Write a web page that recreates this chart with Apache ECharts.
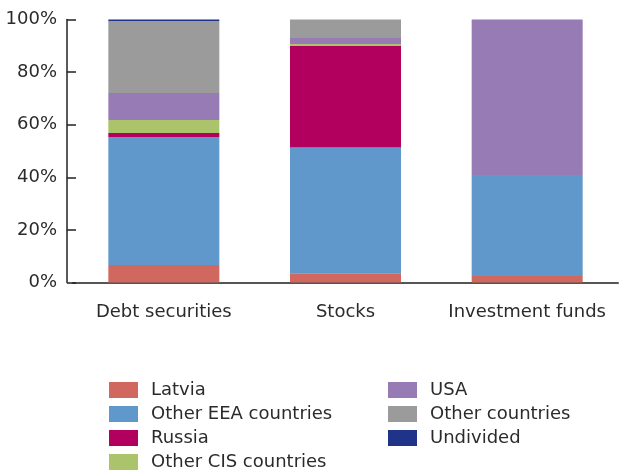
<!DOCTYPE html>
<html>
<head>
<meta charset="utf-8">
<script src="https://cdn.jsdelivr.net/npm/echarts@6/dist/echarts.min.js"></script>
<style>
  html, body { margin: 0; padding: 0; background: #fff; }
  #chart { width: 619px; height: 470px; }
</style>
</head>
<body>
<div id="chart"></div>
<script>
// Holdings structure by issuer region, % of total
const categories = ['Debt securities', 'Stocks', 'Investment funds'];
const yTicks = [0, 20, 40, 60, 80, 100];

const latvia       = [6.7, 3.5, 2.5];
const otherEEA     = [48.6, 47.8, 38.4];
const russia       = [1.5, 38.6, 0];
const otherCIS     = [5.0, 0.8, 0];
const usa          = [10.3, 2.3, 59.1];
const otherCountry = [27.3, 7.0, 0];
const undivided    = [0.6, 0, 0];

const seriesDefs = [
  { name: 'Latvia', data: latvia, color: '#d0685f' },
  { name: 'Other EEA countries', data: otherEEA, color: '#6198cb' },
  { name: 'Russia', data: russia, color: '#b2005e' },
  { name: 'Other CIS countries', data: otherCIS, color: '#abc46b' },
  { name: 'USA', data: usa, color: '#967bb4' },
  { name: 'Other countries', data: otherCountry, color: '#9b9b9b' },
  { name: 'Undivided', data: undivided, color: '#1f3388' }
];

const font = 'DejaVu Sans';
const textColor = '#2b2b2b';

// legend: two columns, one entry per row
const legendColumns = [
  { left: 109, names: ['Latvia', 'Other EEA countries', 'Russia', 'Other CIS countries'] },
  { left: 388, names: ['USA', 'Other countries', 'Undivided'] }
];
const legends = [];
legendColumns.forEach(col => {
  col.names.forEach((name, i) => {
    legends.push({
      left: col.left,
      top: 381 + i * 24,
      padding: 0,
      itemWidth: 29,
      itemHeight: 16,
      icon: 'rect',
      selectedMode: false,
      data: [name],
      textStyle: { fontFamily: font, fontSize: 18, color: textColor, padding: [0, 0, 0, 8] }
    });
  });
});

const chart = echarts.init(document.getElementById('chart'), null, { renderer: 'canvas' });
chart.setOption({
  animation: false,
  grid: { left: 73, right: 1, top: 19.5, bottom: 187.5, containLabel: false },
  legend: legends,
  xAxis: {
    type: 'category',
    data: categories,
    boundaryGap: true,
    axisLine: { lineStyle: { color: '#555', width: 2 } },
    axisTick: { inside: true, length: 6, lineStyle: { color: '#555', width: 1.5 } },
    axisLabel: { interval: 0, fontFamily: font, fontSize: 18, color: textColor, margin: 21 }
  },
  yAxis: {
    type: 'value',
    offset: 6,
    min: yTicks[0],
    max: yTicks[yTicks.length - 1],
    interval: 20,
    splitLine: { show: false },
    axisLine: { show: true, lineStyle: { color: '#222', width: 1.5 } },
    axisTick: { show: true, inside: true, length: 9, lineStyle: { color: '#222', width: 1.5 } },
    axisLabel: { fontFamily: font, fontSize: 18, color: textColor, margin: 10, formatter: '{value}%' }
  },
  series: seriesDefs.map(s => ({
    name: s.name,
    type: 'bar',
    stack: 'total',
    barWidth: 111,
    data: s.data,
    itemStyle: { color: s.color },
    emphasis: { disabled: true }
  }))
});
</script>
</body>
</html>
